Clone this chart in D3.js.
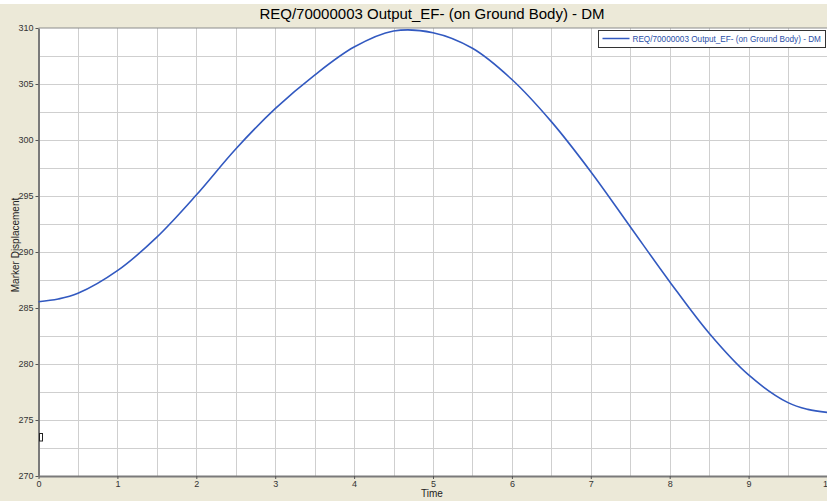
<!DOCTYPE html>
<html>
<head>
<meta charset="utf-8">
<script src="https://cdn.jsdelivr.net/npm/d3@7"></script>
<style>
  html, body { margin: 0; padding: 0; background: #fff; }
  svg { display: block; }
</style>
</head>
<body>
<svg id="chart" width="827" height="501"></svg>
<script>
const title = 'REQ/70000003 Output_EF- (on Ground Body) - DM'
const seriesName = 'REQ/70000003 Output_EF- (on Ground Body) - DM'

// values
const times = [0, 0.25, 0.5, 1, 1.5, 2, 2.5, 3, 3.5, 4, 4.5, 5, 5.5, 6, 6.5, 7, 7.5, 8, 8.5, 9, 9.5, 9.75, 10]
const displacement = [285.56, 285.8, 286.31, 288.33, 291.33, 295.09, 299.2, 302.8, 305.8, 308.3, 309.73, 309.58, 308.19, 305.4, 301.64, 297.17, 292.26, 287.35, 282.74, 279.02, 276.55, 275.95, 275.68]

const xTicks = [0, 1, 2, 3, 4, 5, 6, 7, 8, 9, 10]
const yTicks = [270, 275, 280, 285, 290, 295, 300, 305, 310]

const data = times.map((t, i) => ({ t, v: displacement[i] }))

const svg = d3.select('#chart')

const margin = {
  top: 28,
  right: 0,
  bottom: 25,
  left: 38.5,
}
const W = 827
const H = 501

// beige frame
svg.append('rect')
  .attr('x', 0)
  .attr('y', 4)
  .attr('width', W)
  .attr('height', H - 4)
  .attr('fill', '#ece9d8')

const x = d3.scaleLinear().domain([0, 10]).range([margin.left, W - margin.right + 0.5])
const y = d3.scaleLinear().domain([270, 310]).range([H - margin.bottom, margin.top])

// plot area
svg.append('rect')
  .attr('x', margin.left)
  .attr('y', margin.top)
  .attr('width', W - margin.left)
  .attr('height', y(270) - y(310))
  .attr('fill', '#fff')

const grid = svg.append('g').attr('stroke', '#cfcfcf').attr('stroke-width', 1)

grid.selectAll('.vg')
  .data(d3.range(1, 21).map(d => d / 2))
  .enter()
  .append('line')
  .attr('x1', d => Math.round(x(d)) + 0.5)
  .attr('x2', d => Math.round(x(d)) + 0.5)
  .attr('y1', y(310))
  .attr('y2', y(270))

grid.selectAll('.hg')
  .data(d3.range(1, 16).map(d => 270 + d * 2.5))
  .enter()
  .append('line')
  .attr('x1', margin.left)
  .attr('x2', W)
  .attr('y1', d => Math.round(y(d)) + 0.5)
  .attr('y2', d => Math.round(y(d)) + 0.5)

// top border of plot
svg.append('line')
  .attr('x1', margin.left).attr('x2', W)
  .attr('y1', y(310)).attr('y2', y(310))
  .attr('stroke', '#8c8c8c').attr('stroke-width', 1)

// axes
const xAxis = svg.append('g')
  .attr('transform', `translate(0,${y(270)})`)
  .call(d3.axisBottom(x).tickValues(xTicks).tickSize(3).tickSizeOuter(0).tickFormat(d3.format('d')))

const yAxis = svg.append('g')
  .attr('transform', `translate(${margin.left},0)`)
  .call(d3.axisLeft(y).tickValues(yTicks).tickSize(3).tickSizeOuter(0).tickFormat(d3.format('d')))

;[xAxis, yAxis].forEach(a => {
  a.select('.domain').attr('stroke', '#7a7a7a').attr('stroke-width', 2)
  a.selectAll('.tick line').attr('stroke', '#555')
  a.selectAll('.tick text')
    .attr('fill', '#333')
    .attr('font-family', 'Arial, "Liberation Sans", sans-serif')
    .attr('font-size', '9px')
})
xAxis.selectAll('.tick text').attr('dy', '0.6em')
yAxis.selectAll('.tick text').attr('dx', '0.1em')

// series line
svg.append('path')
  .datum(data)
  .attr('fill', 'none')
  .attr('stroke', '#3259c0')
  .attr('stroke-width', 1.6)
  .attr('d', d3.line().x(d => x(d.t)).y(d => y(d.v)).curve(d3.curveCatmullRom.alpha(0.5)))

// small marker box near the y axis
svg.append('rect')
  .attr('x', margin.left + 1)
  .attr('y', 433.5)
  .attr('width', 3)
  .attr('height', 7.5)
  .attr('fill', '#fff')
  .attr('stroke', '#222')
  .attr('stroke-width', 1)

// title
svg.append('text')
  .attr('x', 432)
  .attr('y', 19)
  .attr('text-anchor', 'middle')
  .attr('font-family', 'Arial, "Liberation Sans", sans-serif')
  .attr('font-size', '15px')
  .attr('fill', '#000')
  .text(title)

// axis titles
svg.append('text')
  .attr('x', 432)
  .attr('y', 497)
  .attr('text-anchor', 'middle')
  .attr('font-family', 'Arial, "Liberation Sans", sans-serif')
  .attr('font-size', '10px')
  .attr('fill', '#222')
  .text('Time')

svg.append('text')
  .attr('transform', 'translate(19,245) rotate(-90)')
  .attr('text-anchor', 'middle')
  .attr('font-family', 'Arial, "Liberation Sans", sans-serif')
  .attr('font-size', '10px')
  .attr('fill', '#222')
  .text('Marker Displacement')

// legend
const legend = svg.append('g').attr('transform', 'translate(598.5,30.5)')
legend.append('rect')
  .attr('width', 227)
  .attr('height', 17)
  .attr('fill', '#fff')
  .attr('stroke', '#333')
  .attr('stroke-width', 1)
legend.append('line')
  .attr('x1', 4).attr('x2', 31)
  .attr('y1', 8).attr('y2', 8)
  .attr('stroke', '#3259c0')
  .attr('stroke-width', 1.5)
legend.append('text')
  .attr('x', 34)
  .attr('y', 11)
  .attr('font-family', 'Arial, "Liberation Sans", sans-serif')
  .attr('font-size', '8.2px')
  .attr('fill', '#2a4fa8')
  .text(seriesName)
</script>
</body>
</html>
